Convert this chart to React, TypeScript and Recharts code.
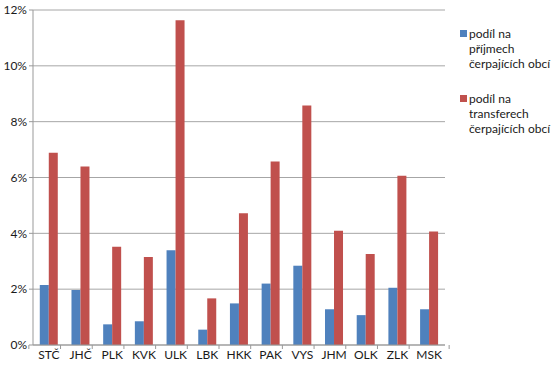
import { BarChart, Bar, XAxis, YAxis, CartesianGrid, Legend } from 'recharts';

const REGIONS = ['STČ', 'JHČ', 'PLK', 'KVK', 'ULK', 'LBK', 'HKK', 'PAK', 'VYS', 'JHM', 'OLK', 'ZLK', 'MSK'];
const PRIJMY = [2.15, 1.97, 0.74, 0.85, 3.39, 0.55, 1.49, 2.2, 2.84, 1.28, 1.07, 2.05, 1.28];
const TRANSFERY = [6.89, 6.39, 3.52, 3.15, 11.63, 1.67, 4.72, 6.57, 8.58, 4.09, 3.26, 6.06, 4.07];
const Y_TICKS = [0, 2, 4, 6, 8, 10, 12];

const SERIES = [
  { key: 'prijmy', name: 'podíl na příjmech čerpajících obcí', color: '#4F81BD' },
  { key: 'transfery', name: 'podíl na transferech čerpajících obcí', color: '#C0504D' },
];

const data = REGIONS.map((region, i) => ({
  region,
  prijmy: PRIJMY[i],
  transfery: TRANSFERY[i],
}));

const FONT = 'Lato, "Open Sans", sans-serif';
const BAND = 40;

// Excel-style tick marks sit between categories, below the axis
function CategoryTick({ x, y, payload, index }: any) {
  const isLast = index === REGIONS.length - 1;
  return (
    <g>
      <line x1={x - BAND / 2} x2={x - BAND / 2} y1={y} y2={y + 4} stroke="#999" />
      {isLast && <line x1={x + BAND / 2} x2={x + BAND / 2} y1={y} y2={y + 4} stroke="#999" />}
      <text x={x} y={y + 14} textAnchor="middle" fontSize={12} fill="#1a1a1a" fontFamily={FONT}>
        {payload.value}
      </text>
    </g>
  );
}

function SideLegend() {
  return (
    <div style={{ background: '#fff', paddingLeft: 8, width: 100, fontFamily: FONT, fontSize: 12, color: '#1a1a1a', lineHeight: '15px' }}>
      {SERIES.map((s, i) => (
        <div key={s.key} style={{ display: 'flex', alignItems: 'flex-start', marginTop: i === 0 ? 0 : 20 }}>
          <span style={{ display: 'inline-block', width: 7, height: 7, background: s.color, marginTop: 4, marginRight: 2, flexShrink: 0 }} />
          <span style={{ width: 88 }}>{s.name}</span>
        </div>
      ))}
    </div>
  );
}

export default function App() {
  return (
    <div style={{ position: 'absolute', left: 0, top: 0, width: 560, height: 365, background: '#fff' }}>
      <BarChart
        width={560}
        height={365}
        data={data}
        margin={{ top: 10, right: 7, left: 0, bottom: 0 }}
        barCategoryGap="21.4%"
        barGap={0}
      >
        <CartesianGrid vertical={false} stroke="#a6a6a6" />
        <XAxis
          dataKey="region"
          height={20}
          axisLine={{ stroke: '#999' }}
          tickLine={false}
          tickSize={0}
          tickMargin={0}
          tick={<CategoryTick />}
          interval={0}
        />
        <YAxis
          width={33}
          domain={[0, 12]}
          ticks={Y_TICKS}
          tickFormatter={(v: number) => `${v}%`}
          axisLine={{ stroke: '#999' }}
          tickLine={{ stroke: '#999' }}
          tickSize={4}
          tickMargin={2}
          tick={{ fontSize: 12, fill: '#1a1a1a', fontFamily: FONT }}
        />
        <Legend
          layout="vertical"
          align="right"
          verticalAlign="top"
          content={<SideLegend />}
          wrapperStyle={{ position: 'absolute', left: 452, top: 26, width: 108 }}
        />
        {SERIES.map((s) => (
          <Bar key={s.key} dataKey={s.key} name={s.name} fill={s.color} isAnimationActive={false} />
        ))}
      </BarChart>
    </div>
  );
}
